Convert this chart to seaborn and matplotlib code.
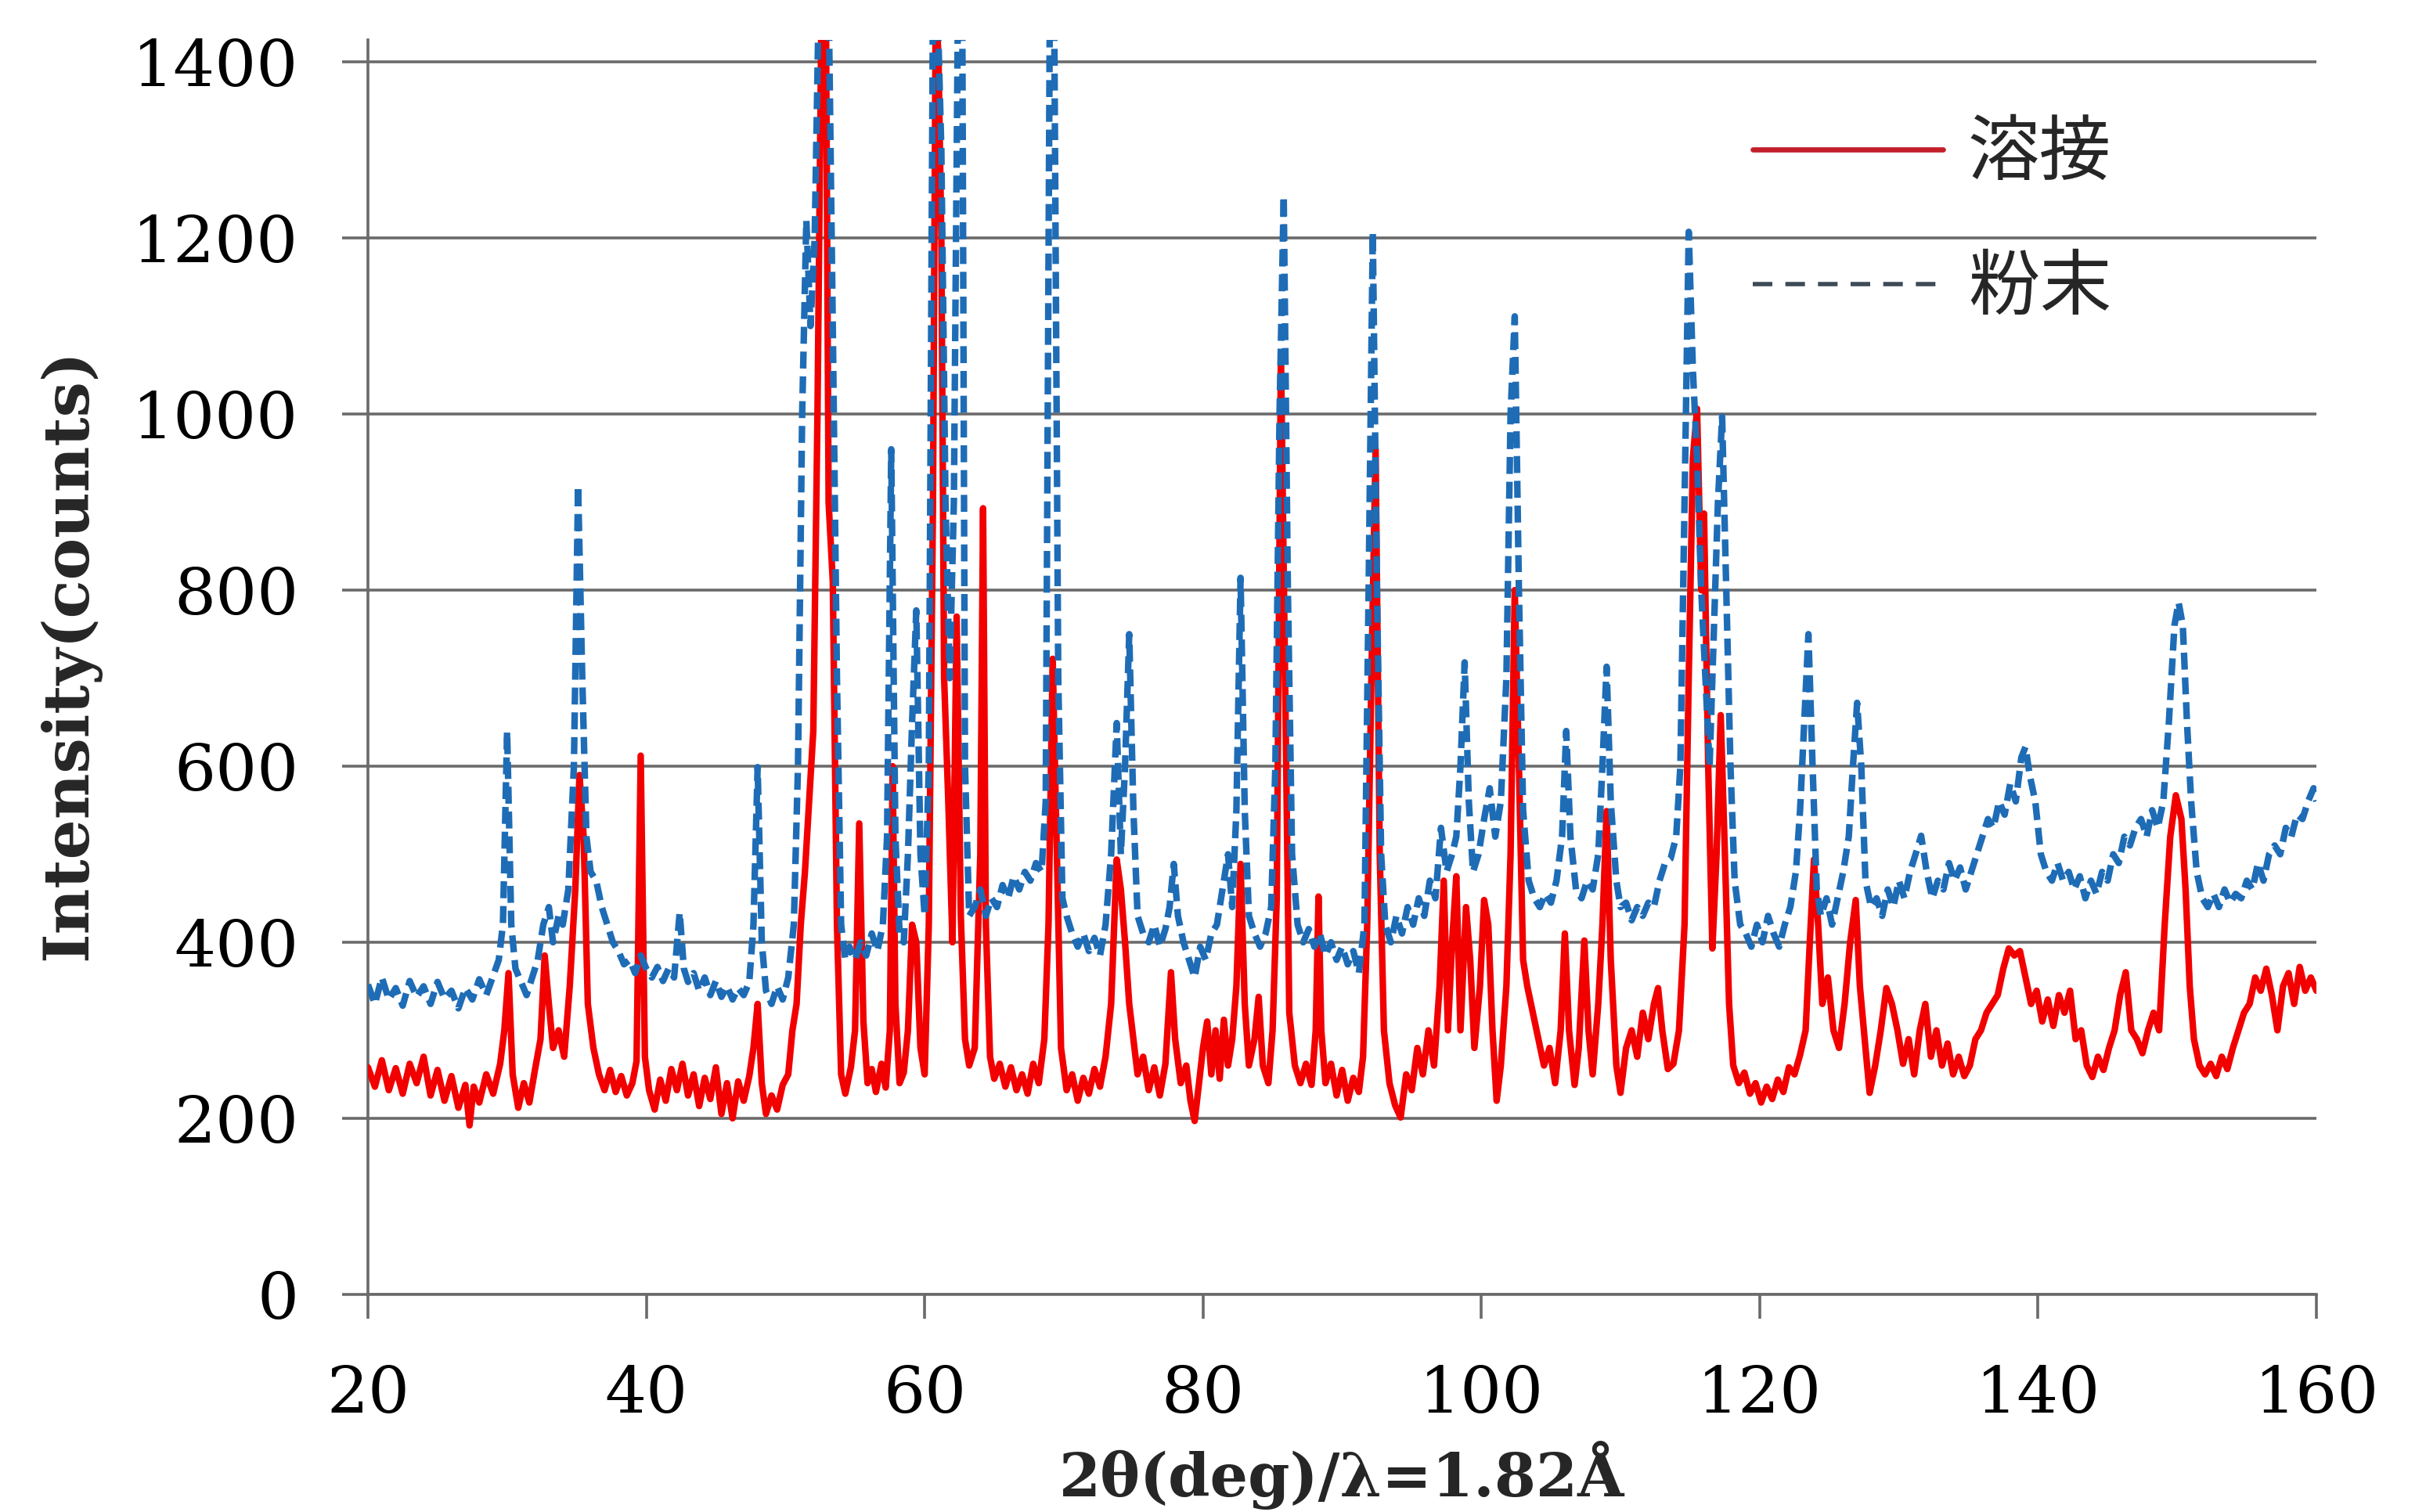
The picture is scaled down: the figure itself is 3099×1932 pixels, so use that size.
import numpy as np
import pandas as pd
import matplotlib
matplotlib.use("Agg")
import matplotlib.pyplot as plt
from matplotlib.lines import Line2D
from matplotlib.font_manager import FontProperties
import seaborn as sns

# ---------------- data ----------------
series_names = ["溶接", "粉末"]

weld_x = [20.0, 20.5, 21.0, 21.5, 22.0, 22.5, 23.0, 23.5, 24.0, 24.5, 25.0, 25.5, 26.0, 26.5, 27.0, 27.3, 27.6, 28.0, 28.5, 29.0, 29.5,
          29.8, 30.1, 30.4, 30.8, 31.2, 31.6, 32.0, 32.4, 32.7, 33.0, 33.3, 33.7, 34.1, 34.5, 34.9, 35.2, 35.5, 35.8, 36.2, 36.6, 37.0,
          37.4, 37.8, 38.2, 38.6, 39.0, 39.3, 39.6, 39.9, 40.2, 40.6, 41.0, 41.4, 41.8, 42.2, 42.6, 43.0, 43.4, 43.8, 44.2, 44.6, 45.0,
          45.4, 45.8, 46.2, 46.6, 47.0, 47.4, 47.7, 48.0, 48.3, 48.6, 49.0, 49.4, 49.8, 50.2, 50.5, 50.8, 51.1, 51.4, 51.7, 52.0, 52.3,
          52.6, 52.9, 53.1, 53.4, 53.7, 54.0, 54.3, 54.7, 55.0, 55.3, 55.6, 55.9, 56.2, 56.5, 56.9, 57.2, 57.5, 57.7, 57.9, 58.2, 58.5,
          58.8, 59.1, 59.4, 59.7, 60.0, 60.3, 60.6, 60.8, 61.0, 61.2, 61.4, 61.7, 62.0, 62.3, 62.6, 62.9, 63.2, 63.6, 64.0, 64.2, 64.4,
          64.7, 65.0, 65.4, 65.8, 66.2, 66.6, 67.0, 67.4, 67.8, 68.2, 68.6, 68.9, 69.2, 69.5, 69.8, 70.2, 70.6, 71.0, 71.4, 71.8, 72.2,
          72.6, 73.0, 73.4, 73.8, 74.1, 74.4, 74.7, 75.0, 75.3, 75.7, 76.1, 76.5, 76.9, 77.3, 77.7, 78.0, 78.4, 78.8, 79.1, 79.4, 79.7,
          80.0, 80.3, 80.6, 80.9, 81.2, 81.5, 81.8, 82.1, 82.4, 82.7, 83.0, 83.3, 83.7, 84.0, 84.3, 84.7, 85.0, 85.3, 85.6, 85.9, 86.2,
          86.6, 87.0, 87.4, 87.8, 88.1, 88.3, 88.5, 88.8, 89.2, 89.6, 90.0, 90.4, 90.8, 91.2, 91.5, 91.8, 92.1, 92.4, 92.7, 93.0, 93.4,
          93.8, 94.2, 94.6, 95.0, 95.4, 95.8, 96.2, 96.6, 97.0, 97.3, 97.6, 97.9, 98.2, 98.5, 98.9, 99.2, 99.5, 99.9, 100.2, 100.5,
          100.8, 101.1, 101.4, 101.8, 102.1, 102.4, 102.7, 103.0, 103.3, 103.7, 104.1, 104.5, 104.9, 105.3, 105.7, 106.0, 106.3, 106.7,
          107.0, 107.4, 107.7, 108.0, 108.4, 108.7, 109.0, 109.3, 109.7, 110.0, 110.4, 110.8, 111.2, 111.6, 112.0, 112.4, 112.7, 113.0,
          113.4, 113.8, 114.2, 114.6, 114.9, 115.2, 115.5, 115.8, 116.0, 116.3, 116.6, 116.9, 117.2, 117.5, 117.8, 118.1, 118.5, 118.9,
          119.3, 119.7, 120.1, 120.5, 120.9, 121.3, 121.7, 122.1, 122.5, 122.9, 123.3, 123.6, 123.9, 124.2, 124.5, 124.9, 125.3, 125.7,
          126.1, 126.5, 126.9, 127.2, 127.6, 127.9, 128.3, 128.7, 129.1, 129.5, 129.9, 130.3, 130.7, 131.1, 131.5, 131.9, 132.3, 132.7,
          133.1, 133.5, 133.9, 134.3, 134.7, 135.1, 135.5, 135.9, 136.3, 136.7, 137.1, 137.5, 137.9, 138.3, 138.7, 139.1, 139.5, 139.9,
          140.3, 140.7, 141.1, 141.5, 141.9, 142.3, 142.7, 143.1, 143.5, 143.9, 144.3, 144.7, 145.1, 145.5, 145.9, 146.3, 146.7, 147.1,
          147.5, 147.9, 148.3, 148.7, 149.1, 149.5, 149.9, 150.3, 150.6, 150.9, 151.2, 151.6, 152.0, 152.4, 152.8, 153.2, 153.6, 154.0,
          154.4, 154.8, 155.2, 155.6, 156.0, 156.4, 156.8, 157.2, 157.6, 158.0, 158.4, 158.8, 159.2, 159.6, 160.0]
weld_y = [258, 236, 266, 232, 257, 228, 262, 240, 270, 226, 255, 220, 248, 212, 238, 192, 236, 218, 250, 228, 262,
          300, 365, 250, 212, 240, 218, 255, 290, 385, 330, 280, 300, 270, 350, 460, 590, 520, 330, 280, 250, 232,
          255, 230, 248, 226, 240, 265, 612, 270, 232, 210, 244, 220, 256, 232, 262, 226, 250, 214, 246, 222, 258,
          205, 240, 200, 242, 220, 248, 280, 330, 240, 205, 226, 210, 238, 250, 300, 330, 420, 480, 560, 640, 1000,
          1480, 1480, 900, 810, 420, 250, 228, 258, 300, 535, 310, 240, 256, 230, 262, 235, 300, 600, 330, 240, 252,
          300, 420, 400, 280, 250, 420, 900, 1480, 1400, 1200, 700, 560, 400, 770, 430, 290, 260, 280, 500, 893, 420,
          270, 245, 262, 236, 258, 232, 250, 228, 262, 240, 290, 420, 722, 500, 280, 232, 250, 220, 246, 228, 256,
          236, 270, 330, 494, 460, 400, 330, 290, 250, 270, 232, 258, 226, 262, 366, 290, 240, 260, 220, 197, 238,
          280, 310, 250, 300, 245, 312, 260, 290, 350, 489, 330, 260, 290, 338, 260, 240, 300, 450, 1070, 700, 320,
          260, 240, 262, 238, 300, 452, 300, 240, 262, 226, 255, 220, 246, 230, 270, 420, 700, 960, 500, 300, 240,
          215, 201, 250, 232, 280, 250, 300, 260, 350, 470, 300, 400, 475, 300, 440, 380, 280, 350, 448, 420,
          300, 220, 260, 350, 500, 800, 600, 380, 350, 320, 290, 260, 280, 240, 300, 410, 300, 238,
          280, 402, 300, 250, 330, 420, 549, 380, 260, 229, 280, 300, 270, 320, 290, 330, 348, 300,
          256, 262, 300, 420, 700, 950, 1006, 800, 887, 600, 393, 500, 658, 500, 330, 260, 240, 252,
          228, 240, 218, 236, 222, 244, 230, 258, 250, 272, 300, 400, 494, 420, 330, 360, 300, 280,
          330, 400, 448, 350, 280, 229, 260, 300, 348, 330, 300, 262, 290, 250, 300, 330, 270, 300,
          260, 285, 250, 270, 248, 260, 290, 300, 320, 330, 340, 370, 393, 385, 390, 360, 330, 345,
          310, 335, 305, 340, 320, 345, 290, 300, 260, 247, 270, 255, 280, 300, 340, 366, 300, 290,
          274, 300, 320, 300, 420, 520, 567, 540, 460, 350, 290, 260, 250, 262, 248, 270, 256, 280,
          300, 320, 330, 360, 345, 370, 340, 300, 350, 365, 330, 372, 345, 360, 345]

powder_x = [20.0, 20.5, 21.0, 21.5, 22.0, 22.5, 23.0, 23.5, 24.0, 24.5, 25.0, 25.5, 26.0, 26.5, 27.0, 27.5, 28.0, 28.5, 29.0, 29.4,
            29.7, 30.0, 30.3, 30.6, 31.0, 31.4, 31.8, 32.2, 32.6, 33.0, 33.3, 33.7, 34.0, 34.4, 34.8, 35.1, 35.4, 35.7, 36.0, 36.4,
            36.8, 37.2, 37.6, 38.0, 38.4, 38.8, 39.2, 39.6, 40.0, 40.4, 40.8, 41.2, 41.6, 42.0, 42.4, 42.7, 43.0, 43.4, 43.8, 44.2,
            44.6, 45.0, 45.4, 45.8, 46.2, 46.6, 47.0, 47.4, 47.7, 48.0, 48.3, 48.6, 49.0, 49.4, 49.8, 50.2, 50.6, 50.9, 51.2, 51.5,
            51.8, 52.1, 52.4, 52.8, 53.1, 53.4, 53.7, 54.0, 54.3, 54.6, 55.0, 55.4, 55.8, 56.2, 56.6, 57.0, 57.3, 57.6, 57.9, 58.2,
            58.5, 58.8, 59.1, 59.4, 59.7, 60.0, 60.3, 60.6, 60.9, 61.2, 61.5, 61.8, 62.1, 62.4, 62.7, 62.9, 63.2, 63.6, 64.0, 64.4,
            64.8, 65.2, 65.6, 66.0, 66.4, 66.8, 67.2, 67.6, 68.0, 68.4, 68.7, 69.0, 69.3, 69.6, 69.9, 70.2, 70.6, 71.0, 71.4, 71.8,
            72.2, 72.6, 73.0, 73.4, 73.8, 74.1, 74.4, 74.7, 75.0, 75.3, 75.7, 76.1, 76.5, 76.9, 77.3, 77.6, 77.9, 78.2, 78.6, 79.0,
            79.4, 79.8, 80.2, 80.6, 81.0, 81.4, 81.8, 82.1, 82.4, 82.7, 83.0, 83.3, 83.7, 84.1, 84.5, 84.9, 85.2, 85.5, 85.8, 86.1,
            86.4, 86.8, 87.2, 87.6, 88.0, 88.4, 88.8, 89.2, 89.6, 90.0, 90.4, 90.8, 91.2, 91.6, 91.9, 92.2, 92.5, 92.8, 93.1, 93.5,
            93.9, 94.3, 94.7, 95.1, 95.5, 95.9, 96.3, 96.7, 97.1, 97.5, 97.9, 98.2, 98.5, 98.8, 99.1, 99.4, 99.8, 100.2, 100.6, 101.0,
            101.4, 101.8, 102.1, 102.4, 102.7, 103.0, 103.4, 103.8, 104.2, 104.6, 105.0, 105.4, 105.8, 106.1, 106.4, 106.8, 107.2,
            107.6, 108.0, 108.4, 108.7, 109.0, 109.3, 109.7, 110.0, 110.4, 110.8, 111.2, 111.6, 112.0, 112.4, 112.8, 113.2, 113.6,
            114.0, 114.3, 114.6, 114.9, 115.2, 115.5, 115.8, 116.1, 116.4, 116.7, 117.0, 117.3, 117.6, 117.9, 118.2, 118.6, 119.0,
            119.4, 119.8, 120.2, 120.6, 121.0, 121.4, 121.8, 122.2, 122.6, 122.9, 123.2, 123.5, 123.8, 124.1, 124.4, 124.8, 125.2,
            125.6, 126.0, 126.4, 126.7, 127.0, 127.3, 127.6, 128.0, 128.4, 128.8, 129.2, 129.6, 130.0, 130.4, 130.8, 131.2, 131.6,
            132.0, 132.4, 132.8, 133.2, 133.6, 134.0, 134.4, 134.8, 135.2, 135.6, 136.0, 136.4, 136.8, 137.2, 137.6, 138.0, 138.4,
            138.8, 139.1, 139.4, 139.8, 140.2, 140.6, 141.0, 141.4, 141.8, 142.2, 142.6, 143.0, 143.4, 143.8, 144.2, 144.6, 145.0,
            145.4, 145.8, 146.2, 146.6, 147.0, 147.4, 147.8, 148.2, 148.6, 149.0, 149.4, 149.8, 150.1, 150.4, 150.7, 151.0, 151.4,
            151.8, 152.2, 152.6, 153.0, 153.4, 153.8, 154.2, 154.6, 155.0, 155.4, 155.8, 156.2, 156.6, 157.0, 157.4, 157.8, 158.2,
            158.6, 159.0, 159.4, 159.8, 160.0]
powder_y = [352, 330, 360, 335, 348, 328, 356, 338, 350, 330, 355, 336, 345, 325, 348, 335, 358, 340, 362, 380,
            420, 640, 420, 370, 355, 340, 360, 380, 420, 440, 400, 430, 420, 460, 600, 919, 700, 520, 480, 470,
            440, 420, 400, 390, 375, 380, 365, 385, 370, 360, 372, 356, 370, 360, 434, 370, 355, 365, 345, 360,
            340, 356, 338, 350, 335, 348, 340, 355, 420, 599, 400, 345, 330, 350, 335, 360, 420, 600, 1000, 1220,
            1100, 1200, 1480, 1480, 1480, 1100, 700, 420, 380, 395, 380, 400, 385, 410, 390, 420, 520, 960, 520, 410,
            400, 500, 650, 777, 500, 430, 600, 1480, 1480, 1300, 900, 700, 900, 1480, 1480, 600, 430, 440, 460, 430,
            450, 440, 465, 450, 475, 460, 480, 470, 490, 480, 560, 1480, 1480, 700, 450, 430, 410, 395, 410, 390,
            405, 385, 420, 500, 649, 500, 600, 750, 550, 430, 410, 400, 420, 395, 415, 440, 489, 430, 400, 380,
            360, 395, 380, 410, 420, 460, 500, 440, 550, 814, 550, 430, 410, 395, 410, 440, 600, 1000, 1248, 800,
            500, 420, 400, 415, 395, 410, 385, 400, 380, 395, 375, 390, 365, 420, 800, 1207, 800, 500, 420, 400,
            430, 410, 440, 420, 450, 430, 470, 450, 530, 480, 500, 520, 600, 718, 560, 480, 500, 540, 575, 520,
            560, 700, 1000, 1111, 800, 550, 470, 450, 440, 455, 445, 470, 520, 640, 520, 460, 450,
            470, 460, 500, 600, 713, 560, 470, 440, 445, 425, 440, 430, 445, 440, 470, 490, 495,
            520, 600, 900, 1207, 1050, 950, 800, 700, 600, 750, 900, 997, 800, 600, 470, 420, 410,
            395, 420, 400, 430, 410, 395, 420, 440, 480, 550, 650, 750, 600, 460, 430, 450, 420,
            450, 480, 520, 600, 672, 600, 470, 440, 450, 430, 460, 440, 470, 450, 480, 500, 521,
            480, 450, 470, 460, 490, 470, 485, 460, 480, 500, 520, 540, 530, 560, 545, 580, 560,
            610, 622, 590, 560, 500, 480, 470, 490, 470, 480, 460, 475, 450, 470, 455, 480, 470,
            500, 490, 520, 510, 530, 540, 520, 550, 530, 560, 650, 760, 786, 760, 650, 560, 480,
            450, 440, 455, 440, 460, 445, 455, 450, 470, 460, 490, 470, 500, 510, 500, 530, 520,
            545, 540, 560, 575, 560]

x_ticks = [20, 40, 60, 80, 100, 120, 140, 160]
y_ticks = [0, 200, 400, 600, 800, 1000, 1200, 1400]
x_label = "2θ(deg)/λ=1.82Å"
y_label = "Intensity(counts)"

# ---------------- styling ----------------
sns.set_theme(style="white")
plt.rcParams["font.family"] = ["DejaVu Serif", "Noto Sans CJK JP"]

RED = "#F20000"
BLUE = "#1E6CB6"
GRID = "#6A6A6A"

weld_df = pd.DataFrame({"x": weld_x, "y": weld_y})
powder_df = pd.DataFrame({"x": powder_x, "y": powder_y})

fig = plt.figure(figsize=(3099 / 200, 1932 / 200), dpi=200)
ax = fig.add_axes([470 / 3099, (1932 - 1654) / 1932, (2959 - 470) / 3099, (1654 - 51) / 1932])

sns.lineplot(data=weld_df, x="x", y="y", ax=ax, color=RED, linewidth=3.0,
             estimator=None, sort=False, zorder=3)
sns.lineplot(data=powder_df, x="x", y="y", ax=ax, color=BLUE, linewidth=3.0,
             estimator=None, sort=False, linestyle="--", zorder=4)
ax.lines[-1].set_dashes((2.6, 1.2))

ax.set_xlim(20, 160)
ax.set_ylim(0, 1425)
ax.set_xticks(x_ticks)
ax.set_yticks(y_ticks)
ax.set_xlabel("")
ax.set_ylabel("")

ax.yaxis.grid(True, color=GRID, linewidth=1.3, zorder=1)
ax.xaxis.grid(False)
for side in ["top", "right"]:
    ax.spines[side].set_visible(False)
for side in ["left", "bottom"]:
    ax.spines[side].set_visible(True)
    ax.spines[side].set_color(GRID)
    ax.spines[side].set_linewidth(1.3)

ax.tick_params(axis="y", which="major", left=True, length=12, width=1.3, color=GRID,
               pad=20, labelsize=30, labelcolor="black")
ax.tick_params(axis="x", which="major", bottom=True, length=11, width=1.3, color=GRID,
               pad=21, labelsize=30, labelcolor="black")
for lab in ax.get_xticklabels() + ax.get_yticklabels():
    lab.set_family("DejaVu Serif")

fig.text(1714 / 3099, 20 / 1932, x_label, ha="center", va="baseline",
         fontsize=27.5, fontweight="bold", family="DejaVu Serif")
fig.text(89 / 3099, (1932 - 836) / 1932, y_label, ha="center", va="center", rotation=90,
         fontsize=29, fontweight="bold", family="DejaVu Serif")

handles = [Line2D([0], [0], color="#C21F2B", linewidth=2.4),
           Line2D([0], [0], color="#3E4A56", linewidth=2.0, linestyle=(0, (4.5, 3.0)))]
ax.legend(handles, series_names, loc="upper left",
          bbox_to_anchor=(2239 / 3099, 1 - 150 / 1932), bbox_transform=fig.transFigure,
          frameon=False, borderpad=0, borderaxespad=0, handlelength=2.65,
          handletextpad=0.35, labelspacing=0.85,
          prop=FontProperties(family="Noto Sans CJK JP", size=33))

fig.savefig("out.png", dpi=200, facecolor="white")
